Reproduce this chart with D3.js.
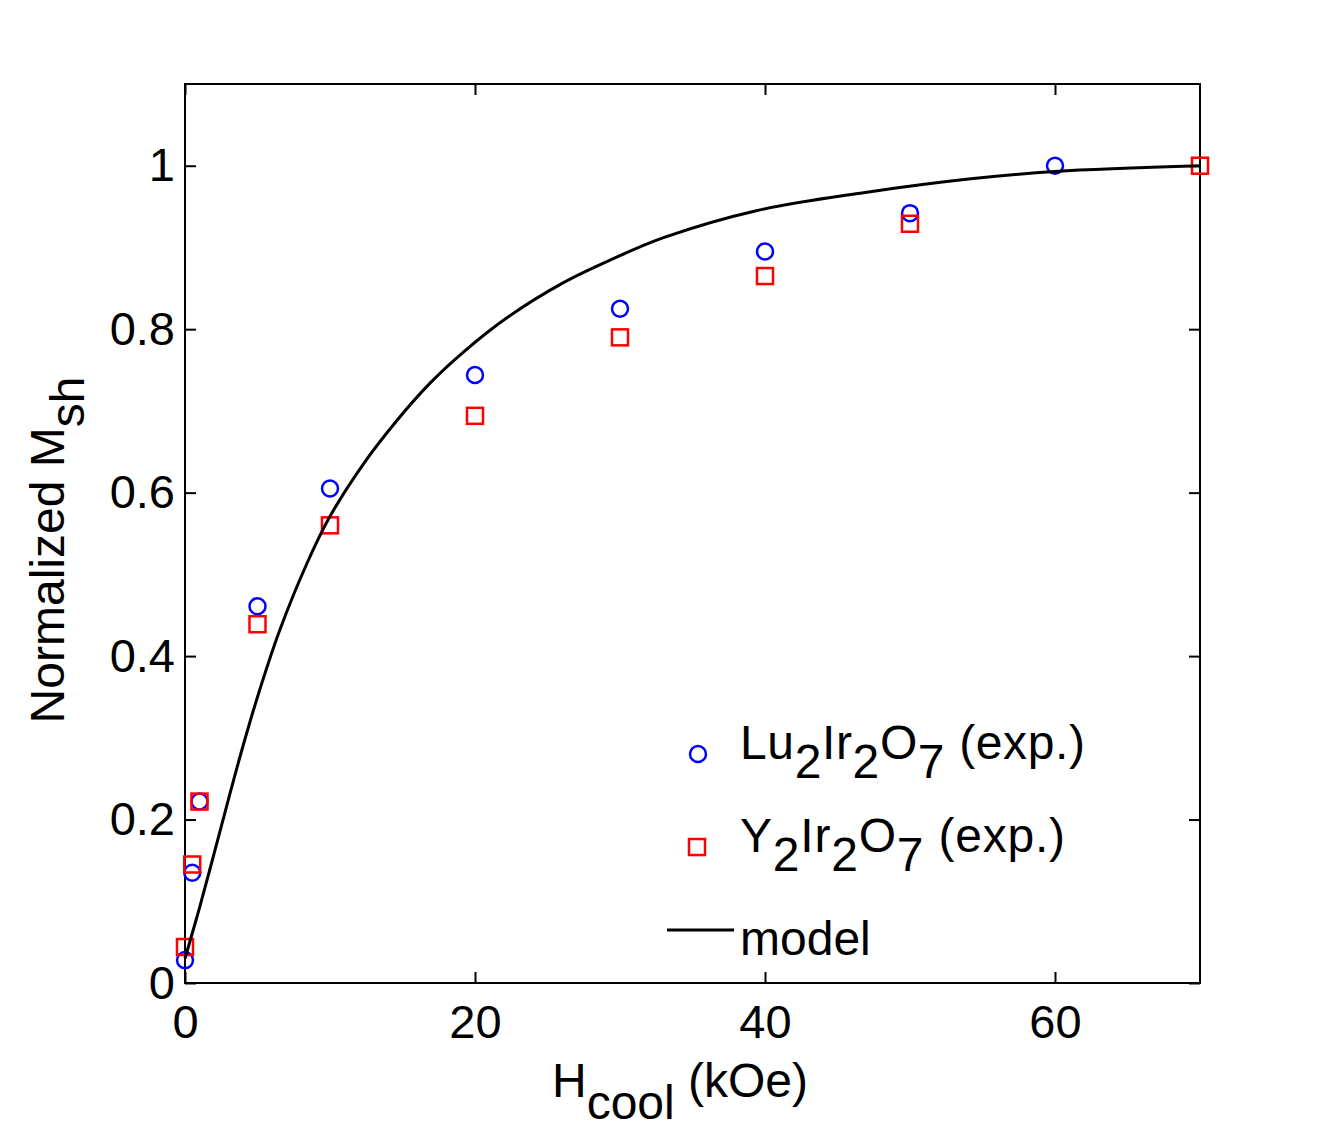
<!DOCTYPE html>
<html>
<head>
<meta charset="utf-8">
<script src="https://cdn.jsdelivr.net/npm/d3@7"></script>
<style>
  body { margin: 0; background: #fff; }
  text { font-family: "Liberation Sans", Arial, sans-serif; fill: #000; }
</style>
</head>
<body>
<div id="chart"></div>
<script>
// Data
const luH = [0, 0.5, 1, 5, 10, 20, 30, 40, 50, 60]
const luM = [0.028, 0.135, 0.222, 0.461, 0.605, 0.744, 0.825, 0.895, 0.942, 1.0]

const yH = [0, 0.5, 1, 5, 10, 20, 30, 40, 50, 70]
const yM = [0.044, 0.145, 0.222, 0.439, 0.56, 0.694, 0.79, 0.865, 0.929, 1.0]

const modelH = [0, 1, 2, 3, 4, 5, 6.5, 8.4, 10, 12.3, 14.6, 16.9, 19.2, 22.2, 26.1, 29.5, 33, 39.4, 46.8, 54.2, 60, 70]
const modelM = [0.03, 0.092, 0.158, 0.225, 0.29, 0.35, 0.43, 0.513, 0.571, 0.635, 0.688, 0.734, 0.772, 0.814, 0.857, 0.886, 0.912, 0.945, 0.967, 0.984, 0.993, 1.0]

const xTicks = [0, 20, 40, 60]
const yTicks = [0, 0.2, 0.4, 0.6, 0.8, 1]

// Dimensions
const dimensions = {
  width: 1326,
  height: 1137,
  left: 185,
  top: 84,
  right: 1200,
  bottom: 983,
}
const fontSize = 47
const labelSize = 48

const svg = d3.select('#chart')
  .append('svg')
  .attr('width', dimensions.width)
  .attr('height', dimensions.height)

// Scales
const xScale = d3.scaleLinear()
  .domain([0, 70])
  .range([dimensions.left, dimensions.right])

const yScale = d3.scaleLinear()
  .domain([0, 1.1])
  .range([dimensions.bottom, dimensions.top])

// Axes (ticks inside, on every side)
const tick = 11
const fmt = d => String(d)

const bottomAxis = svg.append('g')
  .attr('transform', `translate(0, ${dimensions.bottom})`)
  .call(d3.axisBottom(xScale).tickValues(xTicks).tickSize(-tick).tickSizeOuter(0).tickPadding(22).tickFormat(fmt))
const topAxis = svg.append('g')
  .attr('transform', `translate(0, ${dimensions.top})`)
  .call(d3.axisTop(xScale).tickValues(xTicks).tickSize(-tick).tickSizeOuter(0).tickFormat(''))
const leftAxis = svg.append('g')
  .attr('transform', `translate(${dimensions.left}, 0)`)
  .call(d3.axisLeft(yScale).tickValues(yTicks).tickSize(-tick).tickSizeOuter(0).tickPadding(10).tickFormat(fmt))
const rightAxis = svg.append('g')
  .attr('transform', `translate(${dimensions.right}, 0)`)
  .call(d3.axisRight(yScale).tickValues(yTicks).tickSize(-tick).tickSizeOuter(0).tickFormat(''))

for (const ax of [bottomAxis, topAxis, leftAxis, rightAxis]) {
  ax.select('.domain').remove()
  ax.selectAll('line').attr('stroke', '#000').attr('stroke-width', 2)
  ax.selectAll('text')
    .style('font-family', '"Liberation Sans", Arial, sans-serif')
    .style('font-size', fontSize + 'px')
    .attr('fill', '#000')
}
bottomAxis.selectAll('text').attr('dy', '0.71em')

svg.append('rect')
  .attr('x', dimensions.left)
  .attr('y', dimensions.top)
  .attr('width', dimensions.right - dimensions.left)
  .attr('height', dimensions.bottom - dimensions.top)
  .attr('fill', 'none')
  .attr('stroke', '#000')
  .attr('stroke-width', 2)

// Markers
const luData = luH.map((h, i) => ({ h, m: luM[i] }))
const yData = yH.map((h, i) => ({ h, m: yM[i] }))
const modelData = modelH.map((h, i) => ({ h, m: modelM[i] }))

const sq = 16
svg.append('g')
  .selectAll('circle')
  .data(luData)
  .join('circle')
  .attr('cx', d => xScale(d.h))
  .attr('cy', d => yScale(d.m))
  .attr('r', 8)
  .attr('fill', 'none')
  .attr('stroke', '#0000ff')
  .attr('stroke-width', 2.5)

svg.append('g')
  .selectAll('rect')
  .data(yData)
  .join('rect')
  .attr('x', d => xScale(d.h) - sq / 2)
  .attr('y', d => yScale(d.m) - sq / 2)
  .attr('width', sq)
  .attr('height', sq)
  .attr('fill', 'none')
  .attr('stroke', '#ff0000')
  .attr('stroke-width', 2.5)

const lineGenerator = d3.line()
  .x(d => xScale(d.h))
  .y(d => yScale(d.m))
  .curve(d3.curveCatmullRom.alpha(0.5))

svg.append('path')
  .datum(modelData)
  .attr('d', lineGenerator)
  .attr('fill', 'none')
  .attr('stroke', '#000')
  .attr('stroke-width', 3)

// text with same-size subscripts (old matlab style)
function richText(g, parts, shift) {
  const t = g.append('text').style('font-size', labelSize + 'px')
  let cur = 0
  for (const [s, sub] of parts) {
    const want = sub ? shift : 0
    t.append('tspan').attr('dy', want - cur).text(s)
    cur = want
  }
  return t
}

// Legend
const legend = svg.append('g')
legend.append('circle')
  .attr('cx', 698).attr('cy', 754).attr('r', 8)
  .attr('fill', 'none').attr('stroke', '#0000ff').attr('stroke-width', 2.5)
legend.append('rect')
  .attr('x', 697 - sq / 2).attr('y', 847 - sq / 2).attr('width', sq).attr('height', sq)
  .attr('fill', 'none').attr('stroke', '#ff0000').attr('stroke-width', 2.5)
legend.append('line')
  .attr('x1', 667).attr('x2', 734).attr('y1', 930).attr('y2', 930)
  .attr('stroke', '#000').attr('stroke-width', 3)

richText(legend, [['Lu'], ['2', 1], ['Ir'], ['2', 1], ['O'], ['7', 1], [' (exp.)']], 19)
  .attr('x', 740).attr('y', 759)
  .attr('textLength', 345)
richText(legend, [['Y'], ['2', 1], ['Ir'], ['2', 1], ['O'], ['7', 1], [' (exp.)']], 19)
  .attr('x', 740).attr('y', 852)
  .attr('textLength', 325)
legend.append('text')
  .attr('x', 740).attr('y', 955)
  .style('font-size', labelSize + 'px')
  .text('model')

// Axis labels
richText(svg, [['H'], ['cool', 1], [' (kOe)']], 22)
  .attr('x', 680).attr('y', 1097)
  .attr('text-anchor', 'middle')

richText(svg.append('g').attr('transform', 'translate(64, 550) rotate(-90)'),
  [['Normalized M'], ['sh', 1]], 20)
  .attr('x', 0).attr('y', 0)
  .attr('text-anchor', 'middle')
</script>
</body>
</html>
